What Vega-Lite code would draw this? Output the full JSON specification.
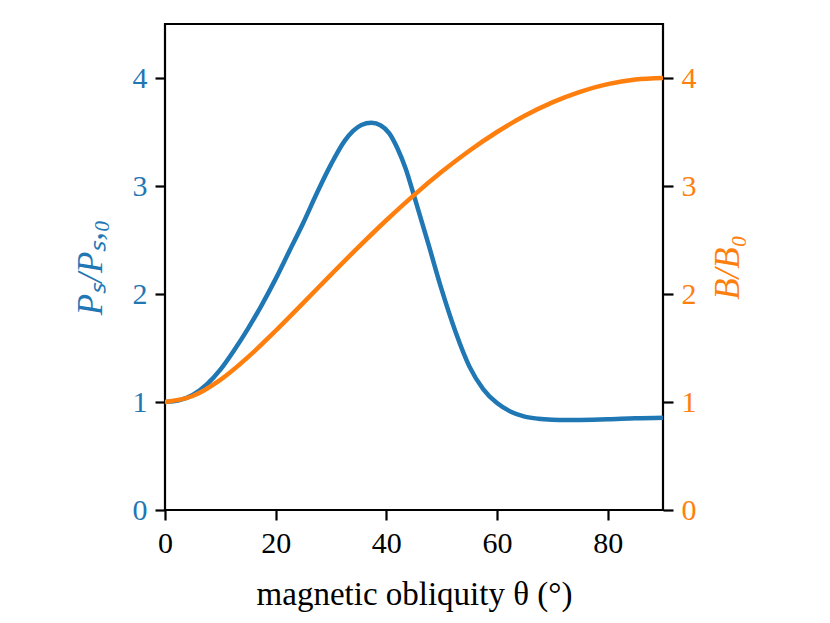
{
  "$schema": "https://vega.github.io/schema/vega-lite/v6.json",
  "width": 498,
  "height": 486,
  "autosize": "none",
  "padding": {"left": 165, "top": 24, "right": 167, "bottom": 113},
  "background": "white",
  "config": {
    "view": {"stroke": "black", "strokeWidth": 2.2},
    "font": "Liberation Serif",
    "axis": {
      "domain": false,
      "grid": false,
      "tickColor": "black",
      "tickWidth": 2.2,
      "tickSize": 10,
      "labelFont": "Liberation Serif",
      "labelFontSize": 30,
      "labelPadding": 8,
      "labelFlush": false,
      "titleFont": "Liberation Serif",
      "titleFontSize": 33,
      "titleFontWeight": "normal"
    }
  },
  "datasets": {
    "power": [
      {"theta": 0, "ratio": 1.0},
      {"theta": 2.5, "ratio": 1.015},
      {"theta": 5, "ratio": 1.065},
      {"theta": 7.5, "ratio": 1.16},
      {"theta": 10, "ratio": 1.3},
      {"theta": 12.5, "ratio": 1.48},
      {"theta": 15, "ratio": 1.68},
      {"theta": 17.5, "ratio": 1.9},
      {"theta": 20, "ratio": 2.14},
      {"theta": 22.5, "ratio": 2.4},
      {"theta": 25, "ratio": 2.66},
      {"theta": 27.5, "ratio": 2.94},
      {"theta": 30, "ratio": 3.2},
      {"theta": 32.5, "ratio": 3.42},
      {"theta": 34, "ratio": 3.51},
      {"theta": 35.5, "ratio": 3.565},
      {"theta": 37.3, "ratio": 3.585},
      {"theta": 39, "ratio": 3.56},
      {"theta": 40.5, "ratio": 3.49},
      {"theta": 42, "ratio": 3.35},
      {"theta": 43.5, "ratio": 3.16},
      {"theta": 45, "ratio": 2.91},
      {"theta": 47.5, "ratio": 2.48},
      {"theta": 50, "ratio": 2.04},
      {"theta": 52.5, "ratio": 1.65},
      {"theta": 55, "ratio": 1.33},
      {"theta": 57.5, "ratio": 1.12},
      {"theta": 60, "ratio": 0.99},
      {"theta": 62.5, "ratio": 0.91},
      {"theta": 65, "ratio": 0.865},
      {"theta": 67.5, "ratio": 0.845},
      {"theta": 70, "ratio": 0.836},
      {"theta": 72.5, "ratio": 0.833},
      {"theta": 75, "ratio": 0.834},
      {"theta": 80, "ratio": 0.84},
      {"theta": 85, "ratio": 0.85},
      {"theta": 90, "ratio": 0.855}
    ],
    "field": [
      {"theta": 0, "ratio": 1.0},
      {"theta": 5, "ratio": 1.0554},
      {"theta": 10, "ratio": 1.2051},
      {"theta": 15, "ratio": 1.4159},
      {"theta": 20, "ratio": 1.6597},
      {"theta": 25, "ratio": 1.9181},
      {"theta": 30, "ratio": 2.1794},
      {"theta": 35, "ratio": 2.4362},
      {"theta": 40, "ratio": 2.6829},
      {"theta": 45, "ratio": 2.9155},
      {"theta": 50, "ratio": 3.1309},
      {"theta": 55, "ratio": 3.3264},
      {"theta": 60, "ratio": 3.5},
      {"theta": 65, "ratio": 3.6498},
      {"theta": 70, "ratio": 3.7743},
      {"theta": 75, "ratio": 3.8724},
      {"theta": 80, "ratio": 3.9431},
      {"theta": 85, "ratio": 3.9857},
      {"theta": 90, "ratio": 4.0}
    ]
  },
  "layer": [
    {
      "data": {"name": "power"},
      "mark": {"type": "line", "color": "#1f77b4", "strokeWidth": 4.5, "interpolate": "monotone", "clip": true},
      "encoding": {
        "x": {
          "field": "theta",
          "type": "quantitative",
          "scale": {"domain": [0, 90], "nice": false},
          "axis": {"values": [0, 20, 40, 60, 80], "title": "magnetic obliquity θ (°)", "titlePadding": 20}
        },
        "y": {
          "field": "ratio",
          "type": "quantitative",
          "scale": {"domain": [0, 4.5], "nice": false},
          "axis": {
            "values": [0, 1, 2, 3, 4],
            "title": "Pₛ/Pₛ,₀",
            "titleFontSize": 35,
            "titleFontStyle": "italic",
            "titleColor": "#1f77b4",
            "labelColor": "#1f77b4",
            "titlePadding": 24
          }
        }
      }
    },
    {
      "data": {"name": "field"},
      "mark": {"type": "line", "color": "#ff7f0e", "strokeWidth": 4.5, "interpolate": "monotone", "clip": true},
      "encoding": {
        "x": {"field": "theta", "type": "quantitative"},
        "y": {
          "field": "ratio",
          "type": "quantitative",
          "scale": {"domain": [0, 4.5], "nice": false},
          "axis": {
            "orient": "right",
            "values": [0, 1, 2, 3, 4],
            "title": "B/B₀",
            "titleAngle": 270,
            "titleBaseline": "top",
            "titleFontSize": 35,
            "titleFontStyle": "italic",
            "titleColor": "#ff7f0e",
            "labelColor": "#ff7f0e",
            "titlePadding": 14
          }
        }
      }
    }
  ],
  "resolve": {"scale": {"y": "independent"}}
}
